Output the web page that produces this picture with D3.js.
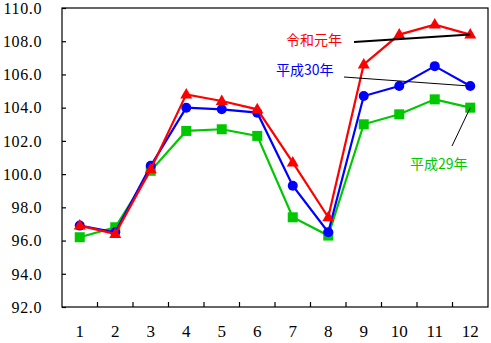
<!DOCTYPE html>
<html>
<head>
<meta charset="utf-8">
<script src="https://cdn.jsdelivr.net/npm/d3@7/dist/d3.min.js"></script>
<style>
  html, body { margin: 0; padding: 0; background: #fff; }
  svg { display: block; }
</style>
</head>
<body>
<div id="chart"></div>
<script>
// Monthly index, three years
const months = [1, 2, 3, 4, 5, 6, 7, 8, 9, 10, 11, 12];
const reiwa1 = [96.9, 96.4, 100.3, 104.8, 104.4, 103.9, 100.7, 97.4, 106.6, 108.4, 109.0, 108.4];
const heisei30 = [96.9, 96.5, 100.5, 104.0, 103.9, 103.7, 99.3, 96.5, 104.7, 105.3, 106.5, 105.3];
const heisei29 = [96.2, 96.8, 100.2, 102.6, 102.7, 102.3, 97.4, 96.3, 103.0, 103.6, 104.5, 104.0];
const yTicks = [92, 94, 96, 98, 100, 102, 104, 106, 108, 110];
const seriesNames = ["令和元年", "平成30年", "平成29年"];

const W = 491, H = 343;
const plot = { left: 62, right: 488, top: 8, bottom: 307 };

const svg = d3.select("#chart").append("svg")
  .attr("width", W).attr("height", H);

const x = d3.scaleBand().domain(months).range([plot.left, plot.right]).padding(0);
const y = d3.scaleLinear().domain([92, 110]).range([plot.bottom, plot.top]);
const cx = m => x(m) + x.bandwidth() / 2;

// frame
svg.append("rect")
  .attr("x", plot.left).attr("y", plot.top)
  .attr("width", plot.right - plot.left).attr("height", plot.bottom - plot.top)
  .attr("fill", "none").attr("stroke", "#000").attr("stroke-width", 1.2);

// y axis: ticks point inward, labels on the left
const yAxis = svg.append("g").attr("transform", `translate(${plot.left},0)`)
  .call(d3.axisRight(y).tickValues(yTicks).tickSize(4).tickFormat(""));
yAxis.select(".domain").remove();
yAxis.selectAll("line").attr("stroke", "#000").attr("stroke-width", 1.2);

svg.append("g").selectAll("text").data(yTicks).join("text")
  .attr("x", 42).attr("y", d => y(d))
  .attr("dy", "0.36em")
  .attr("text-anchor", "end")
  .attr("font-family", "Liberation Serif, serif")
  .attr("font-size", 16)
  .attr("letter-spacing", 0.6)
  .text(d => d.toFixed(1));

// x axis: ticks at category boundaries, pointing up
const bounds = months.slice(1).map(m => x(m));
svg.append("g").selectAll("line").data(bounds).join("line")
  .attr("x1", d => d).attr("x2", d => d)
  .attr("y1", plot.bottom).attr("y2", plot.bottom - 5)
  .attr("stroke", "#000").attr("stroke-width", 1.2);

svg.append("g").selectAll("text").data(months).join("text")
  .attr("x", d => cx(d)).attr("y", 337)
  .attr("text-anchor", "middle")
  .attr("font-family", "Liberation Serif, serif")
  .attr("font-size", 17)
  .text(d => d);

const line = d3.line().x((d, i) => cx(months[i])).y(d => y(d));

function drawSeries(values, color, shape) {
  const g = svg.append("g");
  g.append("path").datum(values)
    .attr("d", line).attr("fill", "none")
    .attr("stroke", color).attr("stroke-width", 2.2);
  const pts = g.selectAll(".pt").data(values).join("g")
    .attr("transform", (d, i) => `translate(${cx(months[i])},${y(d)})`);
  if (shape === "circle") {
    pts.append("circle").attr("r", 5).attr("fill", color);
  } else if (shape === "square") {
    pts.append("rect").attr("x", -5).attr("y", -5)
      .attr("width", 10).attr("height", 10).attr("fill", color);
  } else {
    pts.append("path").attr("d", "M0,-6.5 L6,4 L-6,4 Z").attr("fill", color);
  }
}

drawSeries(heisei29, "#00c800", "square");
drawSeries(heisei30, "#0000ff", "circle");
drawSeries(reiwa1, "#ff0000", "triangle");

// series labels with leader lines to the December point
const last = months.length - 1;
const labels = [
  { name: seriesNames[0], color: "#ff0000", tx: 286, ty: 40, lx: 354, ly: 42, v: reiwa1[last], w: 2 },
  { name: seriesNames[1], color: "#0000ff", tx: 276, ty: 70, lx: 344, ly: 77, v: heisei30[last], w: 1 },
  { name: seriesNames[2], color: "#00c800", tx: 410, ty: 164, lx: 452, ly: 146, v: heisei29[last], w: 1 }
];

labels.forEach(l => {
  svg.append("line")
    .attr("x1", l.lx).attr("y1", l.ly)
    .attr("x2", cx(months[last])).attr("y2", y(l.v))
    .attr("stroke", "#000").attr("stroke-width", l.w);
  svg.append("text")
    .attr("x", l.tx).attr("y", l.ty)
    .attr("dy", "0.36em")
    .attr("font-family", "Noto Sans CJK JP, sans-serif")
    .attr("font-size", 14)
    .attr("fill", l.color)
    .text(l.name);
});
</script>
</body>
</html>
